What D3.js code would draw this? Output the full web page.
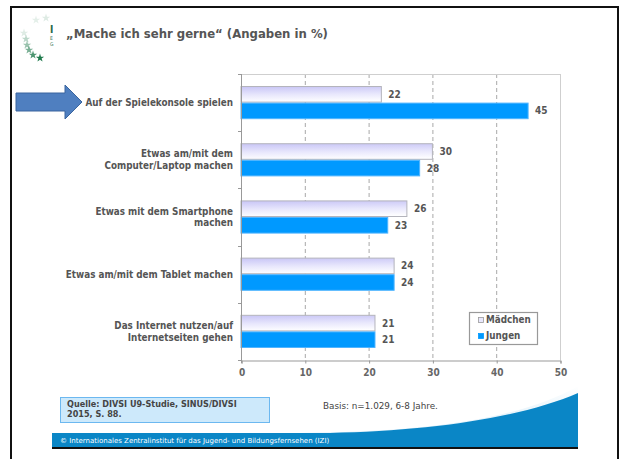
<!DOCTYPE html>
<html><head><meta charset="utf-8">
<script src="https://cdn.jsdelivr.net/npm/d3@7"></script>
<style>body{margin:0;background:#fff} svg{display:block}</style>
</head><body><svg id="c" width="620" height="459"></svg>
<script>
const categories = ["Auf der Spielekonsole spielen", "Etwas am/mit dem Computer/Laptop machen", "Etwas mit dem Smartphone machen", "Etwas am/mit dem Tablet machen", "Das Internet nutzen/auf Internetseiten gehen"];
const categoryLines = [["Auf der Spielekonsole spielen"], ["Etwas am/mit dem", "Computer/Laptop machen"], ["Etwas mit dem Smartphone", "machen"], ["Etwas am/mit dem Tablet machen"], ["Das Internet nutzen/auf", "Internetseiten gehen"]];
const seriesNames = ["Mädchen", "Jungen"];
const maedchen = [22, 30, 26, 24, 21];
const jungen = [45, 28, 23, 24, 21];
const xTicks = [0, 10, 20, 30, 40, 50];
const title = "„Mache ich sehr gerne“ (Angaben in %)";
const sourceLines = ["Quelle: DIVSI U9-Studie, SINUS/DIVSI", "2015, S. 88."];
const basis = "Basis: n=1.029, 6-8 Jahre.";
const footer = "© Internationales Zentralinstitut für das Jugend- und Bildungsfernsehen (IZI)";

const svg = d3.select("#c");
const font = "'DejaVu Sans Condensed','DejaVu Sans',Verdana,sans-serif";
const wide = "'DejaVu Sans',Verdana,sans-serif";
const defs = svg.append("defs");
const g1 = defs.append("linearGradient").attr("id", "gM").attr("x1", 0).attr("y1", 0).attr("x2", 0.1).attr("y2", 1);
g1.append("stop").attr("offset", "0%").attr("stop-color", "#c8c5f6");
g1.append("stop").attr("offset", "55%").attr("stop-color", "#e8e7fc");
g1.append("stop").attr("offset", "100%").attr("stop-color", "#fdfdff");
const g2 = defs.append("linearGradient").attr("id", "gW").attr("x1", 0).attr("y1", 0).attr("x2", 0).attr("y2", 1);
g2.append("stop").attr("offset", "0%").attr("stop-color", "#ffffff");
g2.append("stop").attr("offset", "100%").attr("stop-color", "#bfe0f3");

// frame
svg.append("rect").attr("x", 10).attr("y", 6).attr("width", 2).attr("height", 453).attr("fill", "#111");
svg.append("rect").attr("x", 10).attr("y", 6).attr("width", 609).attr("height", 2).attr("fill", "#111");
svg.append("rect").attr("x", 617).attr("y", 6).attr("width", 2).attr("height", 453).attr("fill", "#111");

// logo (partial)
const logo = svg.append("g");
const starPos = [[26, 39, 0.3], [27, 45, 0.45], [29, 50, 0.6], [33, 55, 0.8], [40, 58, 1], [24, 33, 0.15], [36, 20, 0.12], [46, 18, 0.15]];
logo.selectAll("path").data(starPos).join("path")
  .attr("transform", d => `translate(${d[0]},${d[1]})`)
  .attr("d", d3.symbol(d3.symbolStar, 22))
  .attr("fill", "#1f7a4c").attr("opacity", d => d[2]);
logo.append("text").attr("x", 50).attr("y", 33).attr("font-family", font).attr("font-weight", "bold").attr("font-size", 10).attr("fill", "#1f6a47").text("I");
logo.append("text").attr("x", 50).attr("y", 40).attr("font-family", font).attr("font-size", 5).attr("fill", "#3d7a5c").text("E");
logo.append("text").attr("x", 50).attr("y", 46).attr("font-family", font).attr("font-size", 5).attr("fill", "#3d7a5c").text("G");
svg.append("rect").attr("x", 56).attr("y", 22).attr("width", 120).attr("height", 40).attr("fill", "#fff");

// title
svg.append("text").attr("x", 66).attr("y", 38).attr("font-family", wide).attr("font-weight", "bold").attr("font-size", 11.7).attr("fill", "#555").text(title);

// scales
const x = d3.scaleLinear().domain([0, 50]).range([241, 560]);
const y0 = d3.scaleBand().domain(categories).range([74, 360]).paddingInner(0.42).paddingOuter(0.21);
const y1 = d3.scaleBand().domain(seriesNames).range([0, y0.bandwidth()]);

// grid
svg.append("g").selectAll("line").data(xTicks.filter(t => t > 0 && t < 50)).join("line")
  .attr("x1", d => x(d) + 0.5).attr("x2", d => x(d) + 0.5).attr("y1", 74).attr("y2", 360)
  .attr("stroke", "#a8a8a8").attr("stroke-dasharray", "4,3");
svg.append("line").attr("x1", x(0) - 3).attr("x2", x(50)).attr("y1", 74.5).attr("y2", 74.5).attr("stroke", "#cfcfcf");
svg.append("line").attr("x1", x(50) + 0.5).attr("x2", x(50) + 0.5).attr("y1", 74).attr("y2", 360).attr("stroke", "#cfcfcf");

// bars
const rows = categories.map((c, i) => ({ c, vals: [maedchen[i], jungen[i]] }));
const grp = svg.append("g").selectAll("g").data(rows).join("g").attr("transform", d => `translate(0,${y0(d.c)})`);
grp.selectAll("rect").data(d => d.vals.map((v, j) => ({ k: seriesNames[j], v }))).join("rect")
  .attr("x", x(0)).attr("y", d => y1(d.k) + 0.5).attr("width", d => x(d.v) - x(0)).attr("height", y1.bandwidth() - 1)
  .attr("fill", d => d.k === "Mädchen" ? "url(#gM)" : "#0099ff")
  .attr("stroke", d => d.k === "Mädchen" ? "#b4b4bc" : "#4fb4ff").attr("stroke-width", 1);
grp.selectAll("text").data(d => d.vals.map((v, j) => ({ k: seriesNames[j], v }))).join("text")
  .attr("x", d => x(d.v) + 7).attr("y", d => y1(d.k) + y1.bandwidth() / 2).attr("dy", "0.35em")
  .attr("font-family", font).attr("font-weight", "bold").attr("font-size", 10).attr("fill", "#555").text(d => d.v);

// axes
const yAxis = svg.append("g");
yAxis.append("line").attr("x1", x(0) + 0.5).attr("x2", x(0) + 0.5).attr("y1", 74).attr("y2", 363).attr("stroke", "#999");
const bounds = categories.map(c => y0(c) - y0.step() * 0.21).concat([360]);
yAxis.selectAll("line.t").data(bounds).join("line").attr("class", "t")
  .attr("x1", x(0) - 3).attr("x2", x(0)).attr("y1", d => Math.round(d) + 0.5).attr("y2", d => Math.round(d) + 0.5).attr("stroke", "#999");
const xAxis = d3.axisBottom(x).tickValues(xTicks).tickSize(3).tickPadding(5);
const xa = svg.append("g").attr("transform", "translate(0.5,360.5)").call(xAxis);
xa.select(".domain").attr("stroke", "#999");
xa.selectAll(".tick line").attr("stroke", "#999");
xa.selectAll("text").attr("font-family", font).attr("font-weight", "bold").attr("font-size", 10).attr("fill", "#666");

// category labels
const lab = svg.append("g").selectAll("text").data(categories).join("text")
  .attr("text-anchor", "end").attr("font-family", font).attr("font-weight", "bold").attr("font-size", 9.8).attr("fill", "#555");
lab.each(function (c, i) {
  const lines = categoryLines[i];
  const cy = y0(c) + y0.bandwidth() / 2;
  d3.select(this).selectAll("tspan").data(lines).join("tspan")
    .attr("x", 233).attr("y", (d, k) => cy + (k - (lines.length - 1) / 2) * 11.5).attr("dy", "0.35em").text(d => d);
});

// legend
const lg = svg.append("g");
lg.append("rect").attr("x", 469.5).attr("y", 312.5).attr("width", 68).attr("height", 32).attr("fill", "#fff").attr("stroke", "#999").attr("stroke-width", 1.2);
seriesNames.forEach((s, i) => {
  const cy = 320 + i * 16;
  lg.append("rect").attr("x", 478.5).attr("y", cy - 2.5).attr("width", 5).attr("height", 5)
    .attr("fill", i === 0 ? "#e8e7fc" : "#0099ff").attr("stroke", i === 0 ? "#999" : "#0099ff").attr("stroke-width", 0.8);
  lg.append("text").attr("x", 486).attr("y", cy).attr("dy", "0.35em").attr("font-family", font).attr("font-weight", "bold").attr("font-size", 9.8).attr("fill", "#555").text(s);
});

// footer wave
svg.append("path").attr("d", "M300,433 C420,432 520,420 578,386 L578,433 Z").attr("fill", "url(#gW)").attr("opacity", 0.6);
svg.append("path").attr("d", "M52,433 L330,433 C430,431 520,418 578,393 L578,447 L52,447 Z").attr("fill", "#0a86c6");
svg.append("rect").attr("x", 52).attr("y", 447).attr("width", 526).attr("height", 2).attr("fill", "#111");
svg.append("text").attr("x", 60).attr("y", 443).attr("font-family", wide).attr("font-size", 7).attr("fill", "#fff").text(footer);

// source box
svg.append("rect").attr("x", 60.5).attr("y", 397.5).attr("width", 209).attr("height", 25).attr("fill", "#cde9fb").attr("stroke", "#6cb8f0");
svg.append("g").selectAll("text").data(sourceLines).join("text")
  .attr("x", 67).attr("y", (d, i) => 407 + i * 10).attr("font-family", font).attr("font-weight", "bold").attr("font-size", 9).attr("fill", "#444").text(d => d);
svg.append("text").attr("x", 323).attr("y", 409).attr("font-family", wide).attr("font-size", 8.8).attr("fill", "#444").text(basis);

// arrow
svg.append("path").attr("d", "M16,93 L65,93 L65,85 L82,102 L65,119 L65,111 L16,111 Z")
  .attr("fill", "#4f7fc0").attr("stroke", "#3a659e").attr("stroke-width", 1);
</script></body></html>
